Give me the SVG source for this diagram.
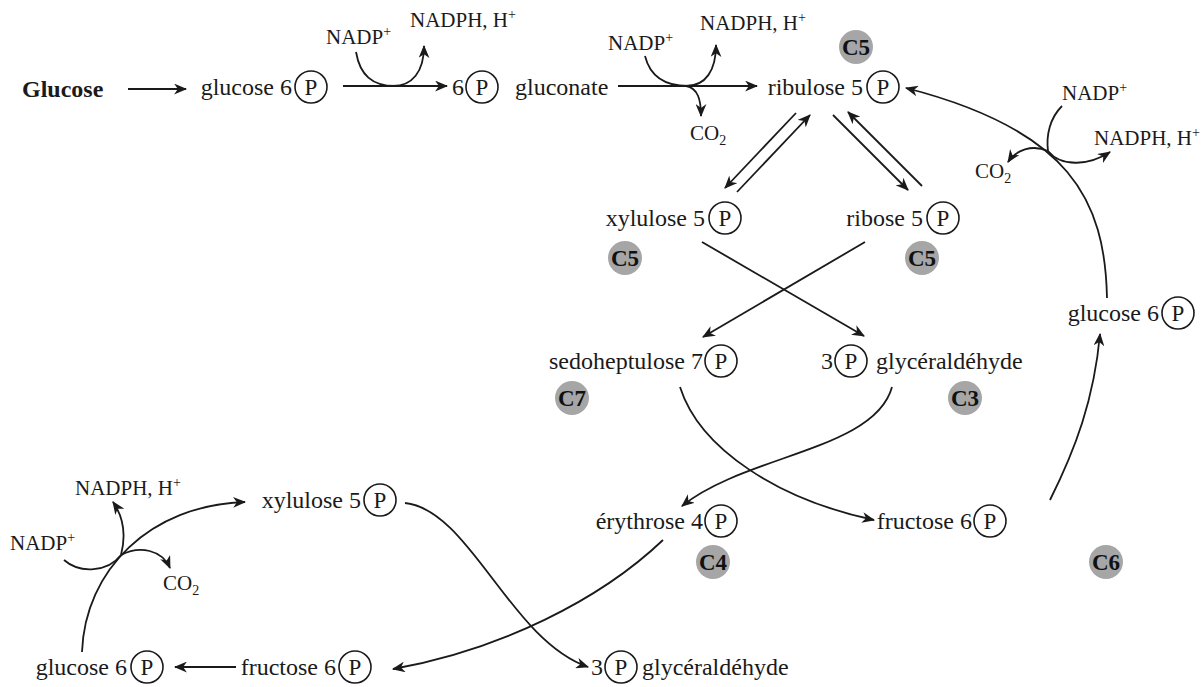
<svg xmlns="http://www.w3.org/2000/svg" width="1204" height="687" viewBox="0 0 1204 687">
<defs>
<marker id="ah" viewBox="0 0 12 10" refX="11" refY="5" markerWidth="13" markerHeight="11" orient="auto" markerUnits="userSpaceOnUse"><path d="M0,0 L12,5 L0,10 L3.5,5 z" fill="#1a1a1a"/></marker>
<style>
.lbl{font-family:"Liberation Serif","Times New Roman",serif;font-size:24px;fill:#1a1a1a}
.p{font-family:"Liberation Serif","Times New Roman",serif;font-size:23px;fill:#1a1a1a;text-anchor:middle}
.co{font-family:"Liberation Serif","Times New Roman",serif;font-size:21px;fill:#1a1a1a}
.cn{font-family:"Liberation Serif","Times New Roman",serif;font-size:23px;font-weight:bold;fill:#111;text-anchor:middle}
.pc{fill:none;stroke:#1a1a1a;stroke-width:1.6}
.gc{fill:#a6a6a6}
.ln{fill:none;stroke:#1a1a1a;stroke-width:1.8}
.ar{fill:none;stroke:#1a1a1a;stroke-width:1.8;marker-end:url(#ah)}
</style>
</defs>
<rect width="1204" height="687" fill="#fff"/>

<g id="connectors">
<path class="ar" d="M128 89 H186"/>
<path class="ar" d="M343 86 H447"/>
<path class="ln" d="M356 52 C360 75 372 86 395 86"/>
<path class="ar" d="M393 86 C412 86 424 72 424 46"/>
<path class="ar" d="M618 86 H757"/>
<path class="ln" d="M645 56 C650 76 664 86 688 86"/>
<path class="ar" d="M686 86 C706 86 716 70 716 45"/>
<path class="ar" d="M686 86 C698 88 701 100 701 116"/>
<path class="ar" d="M796 113 L725 188"/>
<path class="ar" d="M737 192 L810 115"/>
<path class="ar" d="M833 115 L908 190"/>
<path class="ar" d="M922 186 L848 112"/>
<path class="ar" d="M702 242 L864 336"/>
<path class="ar" d="M865 242 L703 337"/>
<path class="ar" d="M680 387 C700 450 780 500 874 520"/>
<path class="ar" d="M892 387 C875 450 745 455 682 506"/>
<path class="ar" d="M1050 500 C1075 450 1094 400 1100 334"/>
<path class="ar" d="M1107 298 C1105 200 1070 130 906 88"/>
<path class="ln" d="M1062 106 C1050 118 1046 135 1048 151"/>
<path class="ar" d="M1048 151 C1062 168 1090 165 1110 152"/>
<path class="ar" d="M1048 151 C1032 144 1016 150 1008 162"/>
<path class="ar" d="M82 652 C85 570 150 505 245 502"/>
<path class="ln" d="M64 560 C80 574 108 572 121 555"/>
<path class="ar" d="M121 555 C127 532 122 515 113 502"/>
<path class="ar" d="M121 555 C140 545 162 550 170 568"/>
<path class="ar" d="M236 667 H175"/>
<path class="ar" d="M663 540 C600 600 500 650 393 669"/>
<path class="ar" d="M405 503 C470 510 510 640 588 667"/>
</g>

<g id="glucose"><text class="lbl" x="22" y="97" font-size="25" font-weight="bold">Glucose</text></g>

<g id="g6p-top"><text class="lbl" x="292" y="95" text-anchor="end">glucose 6</text><circle class="pc" cx="311" cy="87" r="16"/><text class="p" x="311" y="95">P</text></g>

<g id="gluconate"><text class="lbl" x="452" y="95">6</text><circle class="pc" cx="482" cy="87" r="16"/><text class="p" x="482" y="95">P</text><text class="lbl" x="515" y="95">gluconate</text></g>

<g id="ribulose"><text class="lbl" x="863" y="95" text-anchor="end">ribulose 5</text><circle class="pc" cx="883" cy="87" r="16"/><text class="p" x="883" y="95">P</text><circle class="gc" cx="856" cy="47" r="17"/><text class="cn" x="856" y="55">C5</text></g>

<g id="xylulose"><text class="lbl" x="705" y="226" text-anchor="end">xylulose 5</text><circle class="pc" cx="725" cy="218" r="16"/><text class="p" x="725" y="226">P</text><circle class="gc" cx="625" cy="258" r="17"/><text class="cn" x="625" y="266">C5</text></g>

<g id="ribose"><text class="lbl" x="923" y="226" text-anchor="end">ribose 5</text><circle class="pc" cx="943" cy="218" r="16"/><text class="p" x="943" y="226">P</text><circle class="gc" cx="922" cy="258" r="17"/><text class="cn" x="922" y="266">C5</text></g>

<g id="sedoheptulose"><text class="lbl" x="703" y="369" text-anchor="end">sedoheptulose 7</text><circle class="pc" cx="721" cy="361" r="16"/><text class="p" x="721" y="369">P</text><circle class="gc" cx="572" cy="398" r="17"/><text class="cn" x="572" y="406">C7</text></g>

<g id="glyceraldehyde"><text class="lbl" x="833" y="369" text-anchor="end">3</text><circle class="pc" cx="851" cy="361" r="16"/><text class="p" x="851" y="369">P</text><text class="lbl" x="876" y="369">glycéraldéhyde</text><circle class="gc" cx="965" cy="398" r="17"/><text class="cn" x="965" y="406">C3</text></g>

<g id="erythrose"><text class="lbl" x="703" y="529" text-anchor="end">érythrose 4</text><circle class="pc" cx="721" cy="521" r="16"/><text class="p" x="721" y="529">P</text><circle class="gc" cx="713" cy="562" r="17"/><text class="cn" x="713" y="570">C4</text></g>

<g id="fructose"><text class="lbl" x="972" y="529" text-anchor="end">fructose 6</text><circle class="pc" cx="990" cy="521" r="16"/><text class="p" x="990" y="529">P</text><circle class="gc" cx="1106" cy="562" r="17"/><text class="cn" x="1106" y="570">C6</text></g>

<g id="g6p-right"><text class="lbl" x="1159" y="321" text-anchor="end">glucose 6</text><circle class="pc" cx="1178" cy="313" r="16"/><text class="p" x="1178" y="321">P</text></g>

<g id="xylulose-bottom"><text class="lbl" x="361" y="508" text-anchor="end">xylulose 5</text><circle class="pc" cx="380" cy="500" r="16"/><text class="p" x="380" y="508">P</text></g>

<g id="g6p-bottom"><text class="lbl" x="127" y="675" text-anchor="end">glucose 6</text><circle class="pc" cx="147" cy="667" r="16"/><text class="p" x="147" y="675">P</text></g>

<g id="f6p-bottom"><text class="lbl" x="336" y="675" text-anchor="end">fructose 6</text><circle class="pc" cx="355" cy="667" r="16"/><text class="p" x="355" y="675">P</text></g>

<g id="glyceraldehyde-bottom"><text class="lbl" x="603" y="675" text-anchor="end">3</text><circle class="pc" cx="621" cy="667" r="16"/><text class="p" x="621" y="675">P</text><text class="lbl" x="642" y="675">glycéraldéhyde</text></g>

<g id="cofactors">
<text class="co" x="326" y="44">NADP<tspan font-size="14" dy="-8">+</tspan></text>
<text class="co" x="410" y="27">NADPH, H<tspan font-size="14" dy="-8">+</tspan></text>
<text class="co" x="608" y="50">NADP<tspan font-size="14" dy="-8">+</tspan></text>
<text class="co" x="700" y="30">NADPH, H<tspan font-size="14" dy="-8">+</tspan></text>
<text class="co" x="690" y="140" font-size="20">CO<tspan font-size="14" dy="5">2</tspan></text>
<text class="co" x="1062" y="100">NADP<tspan font-size="14" dy="-8">+</tspan></text>
<text class="co" x="1094" y="145">NADPH, H<tspan font-size="14" dy="-8">+</tspan></text>
<text class="co" x="975" y="178" font-size="20">CO<tspan font-size="14" dy="5">2</tspan></text>
<text class="co" x="75" y="495">NADPH, H<tspan font-size="14" dy="-8">+</tspan></text>
<text class="co" x="10" y="550">NADP<tspan font-size="14" dy="-8">+</tspan></text>
<text class="co" x="163" y="590" font-size="20">CO<tspan font-size="14" dy="5">2</tspan></text>
</g>
</svg>
